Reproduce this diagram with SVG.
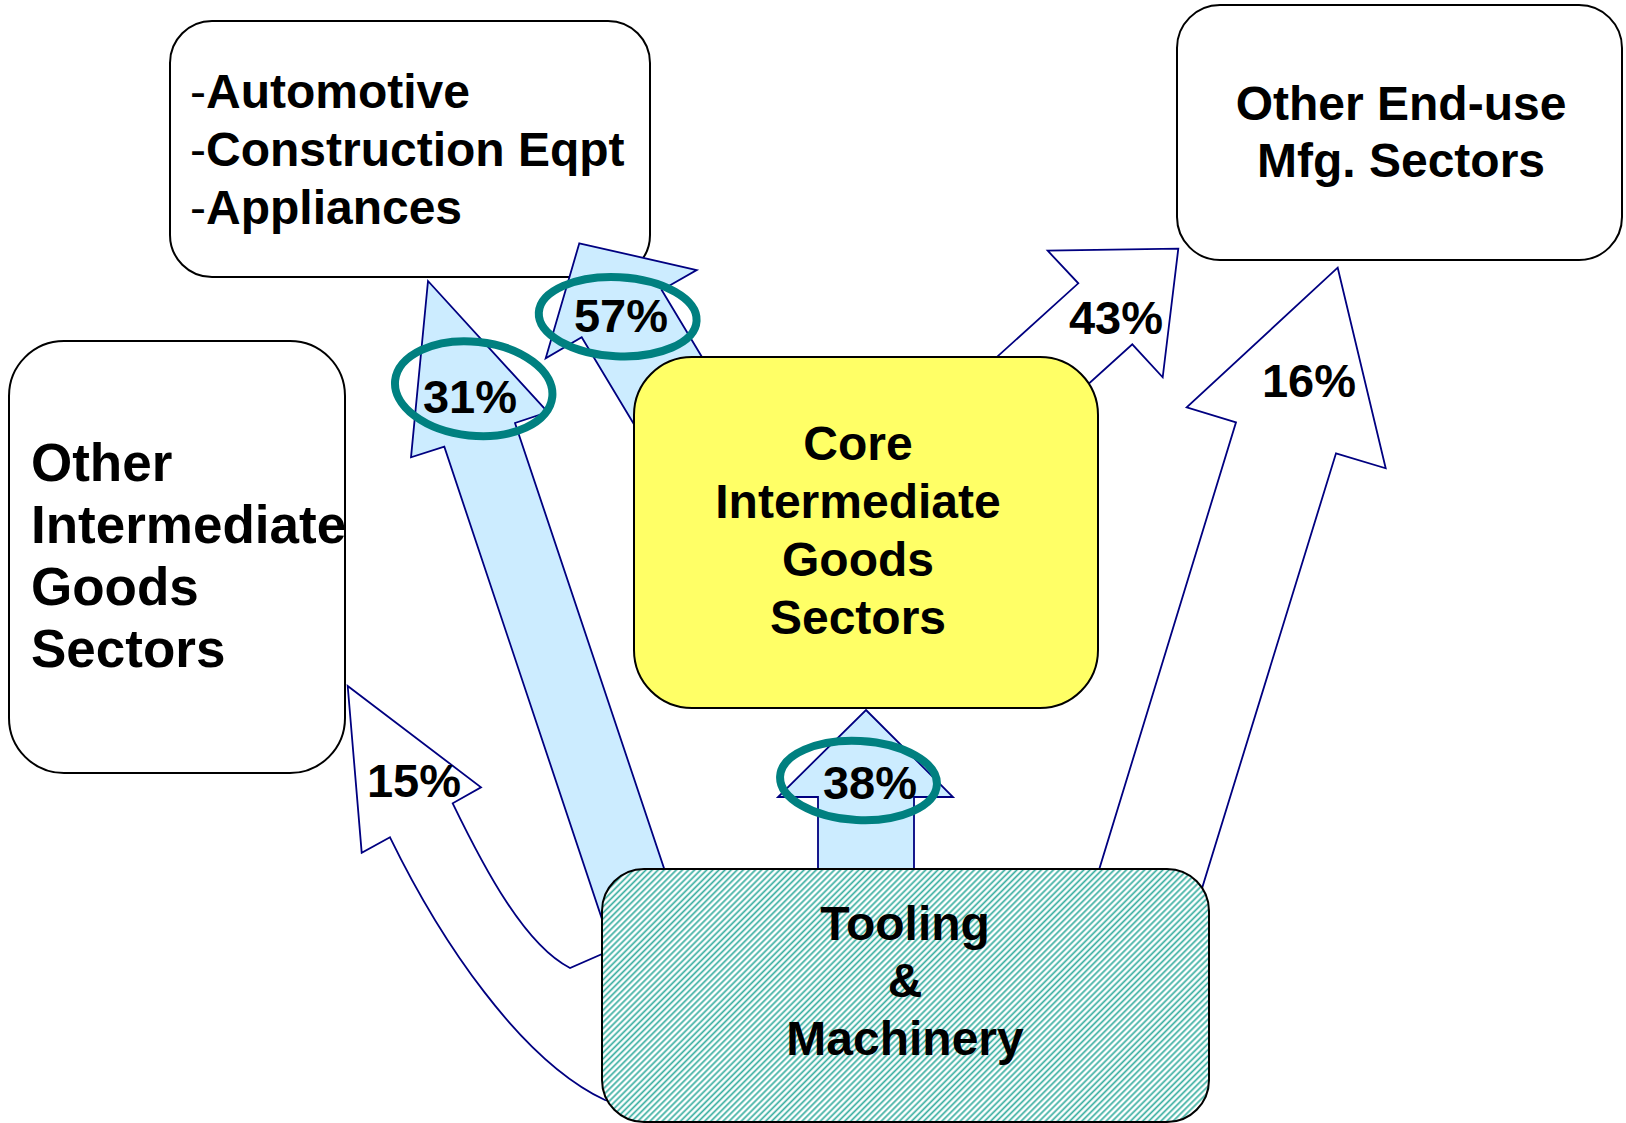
<svg xmlns="http://www.w3.org/2000/svg" width="1626" height="1123" viewBox="0 0 1626 1123">
  <defs>
    <pattern id="hatch" patternUnits="userSpaceOnUse" width="4.3" height="4.3" patternTransform="rotate(45)">
      <rect width="4.3" height="4.3" fill="#ffffff"/>
      <line x1="1.2" y1="0" x2="1.2" y2="4.3" stroke="#3AAFA1" stroke-width="1.7"/>
    </pattern>
    <style>
      .box { fill: #ffffff; stroke: #000000; stroke-width: 2; }
      .core { fill: #FFFF66; stroke: #000000; stroke-width: 2; }
      .tool { fill: url(#hatch); stroke: #000000; stroke-width: 2; }
      .txt { font-family: "Liberation Sans", Arial, sans-serif; font-weight: bold; fill: #000000; }
      .mid { text-anchor: middle; }
      .arrow-hi { fill: #CCECFF; stroke: #000080; stroke-width: 1.8; stroke-linejoin: miter; }
      .arrow-lo { fill: #ffffff; stroke: #000080; stroke-width: 1.8; stroke-linejoin: miter; }
      .ring { fill: none; stroke: #008080; stroke-width: 8; }
      .pct { font-size: 47px; }
      .dash { font-weight: normal; }
    </style>
  </defs>

  <rect width="1626" height="1123" fill="#ffffff"/>

  <!-- end-use sectors served -->
  <g id="node-automotive">
    <rect class="box" x="170" y="21" width="480" height="256" rx="42" ry="42"/>
    <text class="txt" font-size="48"><tspan x="190" y="108"><tspan class="dash">-</tspan>Automotive</tspan><tspan x="190" y="166"><tspan class="dash">-</tspan>Construction Eqpt</tspan><tspan x="190" y="224"><tspan class="dash">-</tspan>Appliances</tspan></text>
  </g>

  <g id="node-other-end-use">
    <rect class="box" x="1177" y="5" width="445" height="255" rx="43" ry="43"/>
    <text class="txt mid" font-size="48"><tspan x="1401" y="120">Other End-use</tspan><tspan x="1401" y="177">Mfg. Sectors</tspan></text>
  </g>

  <g id="node-other-intermediate">
    <rect class="box" x="9" y="341" width="336" height="432" rx="55" ry="55"/>
    <text class="txt" font-size="53"><tspan x="31" y="481">Other</tspan><tspan x="31" y="543">Intermediate</tspan><tspan x="31" y="605">Goods</tspan><tspan x="31" y="667">Sectors</tspan></text>
  </g>

  <!-- flow arrows -->
  <g id="connectors">
    <path id="flow-15" class="arrow-lo" d="M390,837.3 L361.7,852.7 L347.7,686 L481,787.3 L452.7,803.3 C485,870 525,945 570,968 L625,944 L640,1110 L605,1100 C520,1060 440,940 390,837.3 Z"/>
    <polygon id="flow-31" class="arrow-hi" points="428,281 547.8,412.2 515,423 683,925 612,949 444.3,446.7 411,457.3"/>
    <polygon id="flow-57" class="arrow-hi" points="579.3,243.3 696.7,270 661.7,290 775,478.5 695,525.8 581.7,337.3 545.7,358.3"/>
    <polygon id="flow-43" class="arrow-lo" points="1178.3,248.7 1162.7,377.3 1132.3,344.3 1021,445 967,384 1078.3,283.3 1047.7,250.7"/>
    <polygon id="flow-16" class="arrow-lo" points="1337.7,267.7 1385.7,468.3 1336,453.3 1183,950 1084,919 1236,422.3 1186.7,407.3"/>
    <polygon id="flow-38" class="arrow-hi" points="866,710 953,797 914,797 914,960 818,960 818,797 778,797"/>
  </g>

  <g id="node-core">
    <rect class="core" x="634" y="357" width="464" height="351" rx="58" ry="58"/>
    <text class="txt mid" font-size="48"><tspan x="858" y="460">Core</tspan><tspan x="858" y="518">Intermediate</tspan><tspan x="858" y="576">Goods</tspan><tspan x="858" y="634">Sectors</tspan></text>
  </g>

  <g id="node-tooling">
    <rect class="tool" x="602" y="869" width="607" height="253" rx="42" ry="42"/>
    <text class="txt mid" font-size="48"><tspan x="905" y="940">Tooling</tspan><tspan x="905" y="997">&amp;</tspan><tspan x="905" y="1055">Machinery</tspan></text>
  </g>

  <!-- rings around the highlighted shares -->
  <g id="highlights">
    <ellipse class="ring" cx="617.7" cy="316.7" rx="79" ry="39.5" transform="rotate(3 617.7 316.7)"/>
    <ellipse class="ring" cx="473.7" cy="388.7" rx="79" ry="47" transform="rotate(6 473.7 388.7)"/>
    <ellipse class="ring" cx="858.5" cy="780.5" rx="78.5" ry="39.5" transform="rotate(3 858.5 780.5)"/>
  </g>

  <!-- share labels -->
  <g id="labels" class="txt pct mid">
    <text x="621" y="332">57%</text>
    <text x="470" y="413">31%</text>
    <text x="870" y="799">38%</text>
    <text x="1116" y="334">43%</text>
    <text x="1309" y="397">16%</text>
    <text x="414" y="797">15%</text>
  </g>
</svg>
